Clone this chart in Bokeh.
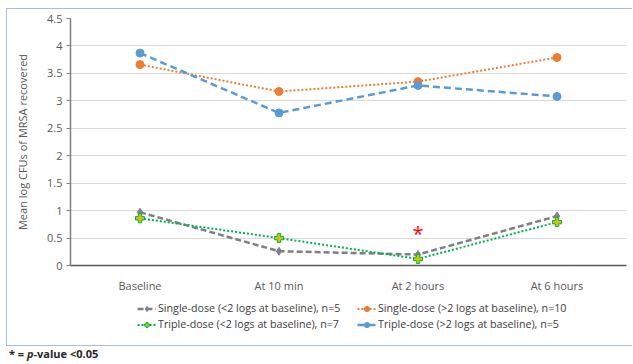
from bokeh.plotting import figure
from bokeh.models import Legend, LegendItem, CustomJSTickFormatter, FixedTicker, Div, Range1d, FactorRange
from bokeh.layouts import column
from bokeh.core.properties import value
from bokeh.embed import file_html
from bokeh.resources import INLINE

categories = ["Baseline", "At 10 min", "At 2 hours", "At 6 hours"]
single_lt2 = [0.97, 0.26, 0.20, 0.90]
single_gt2 = [3.66, 3.17, 3.35, 3.79]
triple_lt2 = [0.86, 0.50, 0.12, 0.79]
triple_gt2 = [3.87, 2.78, 3.28, 3.08]
sig_x = ["At 2 hours"]
sig_y = [0.64]
y_ticks = [0, 0.5, 1, 1.5, 2, 2.5, 3, 3.5, 4, 4.5]
series_names = ["Single-dose (<2 logs at baseline), n=5",
                "Single-dose (>2 logs at baseline), n=10",
                "Triple-dose (<2 logs at baseline), n=7",
                "Triple-dose (>2 logs at baseline), n=5"]

FONT = "Open Sans"
TXT = "#595959"

styles = [
    dict(line_color="#808080", line_width=2.5, line_dash="6 3", marker="diamond", m=dict(size=8, color="#7f7f8f")),
    dict(line_color="#ed7d31", line_width=2, line_dash="2 2", marker="circle", m=dict(size=8, color="#ed7d31")),
    dict(line_color="#00b050", line_width=2, line_dash="2 2", marker="plus", m=dict(size=9, fill_color="#d4c400", line_color="#00b050")),
    dict(line_color="#5b9bd5", line_width=2.5, line_dash="7 4", marker="circle", m=dict(size=8, color="#5b9bd5")),
]
all_series = [single_lt2, single_gt2, triple_lt2, triple_gt2]

p = figure(x_range=categories, y_range=(0, 4.5), width=625, height=286,
           output_backend="svg", toolbar_location=None,
           min_border_left=63, min_border_right=6, min_border_top=9, min_border_bottom=30)
p.x_range.range_padding = 0
p.outline_line_color = None

p.xgrid.grid_line_color = None
p.ygrid.grid_line_color = "#d9d9d9"
p.yaxis.ticker = FixedTicker(ticks=y_ticks)
p.yaxis.formatter = CustomJSTickFormatter(code="return tick.toString();")
p.yaxis.minor_tick_line_color = None
p.yaxis.major_tick_in = 0
p.yaxis.major_tick_out = 4
p.yaxis.major_tick_line_color = "#7f7f7f"
p.yaxis.axis_line_color = "#7f7f7f"
p.yaxis.axis_line_width = 1.5
p.yaxis.major_label_standoff = 4
p.yaxis.axis_label = "Mean log CFUs of MRSA recovered"
p.yaxis.axis_label_text_font = FONT
p.yaxis.axis_label_text_font_style = "normal"
p.yaxis.axis_label_text_font_size = "11px"
p.yaxis.axis_label_text_color = TXT
p.yaxis.axis_label_standoff = 14
p.yaxis.major_label_text_font = FONT
p.yaxis.major_label_text_font_size = "11px"
p.yaxis.major_label_text_color = TXT

p.xaxis.axis_line_color = "#595959"
p.xaxis.axis_line_width = 1.5
p.xaxis.major_tick_line_color = None
p.xaxis.minor_tick_line_color = None
p.xaxis.major_label_standoff = 6
p.xaxis.major_label_text_font = FONT
p.xaxis.major_label_text_font_size = "11px"
p.xaxis.major_label_text_color = TXT

for ys, st in zip(all_series, styles):
    p.line(categories, ys, line_color=st["line_color"], line_width=st["line_width"], line_dash=st["line_dash"])
    p.scatter(categories, ys, marker=st["marker"], **st["m"])

p.text(sig_x, sig_y, text=["*"], text_color="red", text_font=value(FONT),
       text_font_size="20px", text_align="center", text_baseline="alphabetic", y_offset=3)

# legend panel: a second figure (frames are aligned with the main plot in the column)
lg = figure(width=625, height=50, x_range=FactorRange(*categories), y_range=Range1d(10, 11),
            output_backend="svg", toolbar_location=None,
            min_border=0, min_border_left=0, min_border_right=0, min_border_top=0, min_border_bottom=0)
lg.axis.visible = False
lg.grid.visible = False
lg.outline_line_color = None
legend_pos = [(67, 30), (287, 30), (67, 14), (287, 14)]
for name, ys, st, loc in zip(series_names, all_series, styles, legend_pos):
    rl = lg.line(categories, ys, line_color=st["line_color"], line_width=st["line_width"], line_dash=st["line_dash"])
    rs = lg.scatter(categories, ys, marker=st["marker"], **st["m"])
    leg = Legend(items=[LegendItem(label=name, renderers=[rl, rs])], location=loc)
    leg.label_text_font = FONT
    leg.label_text_font_size = "10.7px"
    leg.label_text_color = "#404040"
    leg.glyph_height = 13
    leg.label_height = 13
    leg.glyph_width = 19
    leg.label_standoff = 2
    leg.spacing = 0
    leg.padding = 0
    leg.margin = 0
    leg.border_line_color = None
    leg.background_fill_alpha = 0
    lg.add_layout(leg, "center")

boxed = column(p, lg, styles={"border": "1px solid #a9bcd9", "border-right": "none"},
               margin=(8, 0, 0, 6), spacing=0)
foot = Div(text="<b style='font-family:\"Open Sans\";font-size:11px;color:#262626'>* = <i>p</i>-value &lt;0.05</b>",
           margin=(0, 0, 0, 9), height=16)
layout = column(boxed, foot, spacing=0, margin=0)

open("out.html", "w").write(file_html(layout, INLINE))
